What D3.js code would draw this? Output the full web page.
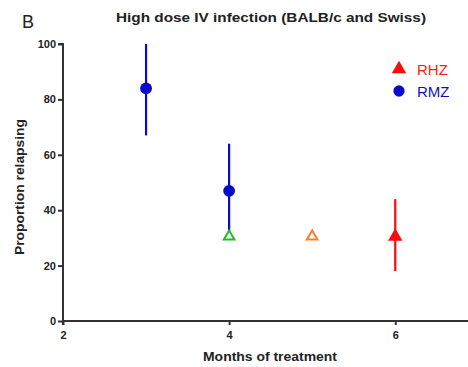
<!DOCTYPE html>
<html>
<head>
<meta charset="utf-8">
<script src="https://cdn.jsdelivr.net/npm/d3@7"></script>
<style>
  body { margin: 0; background: #fff; }
  text { font-family: Arial, "Liberation Sans", sans-serif; }
</style>
</head>
<body>
<svg id="chart" width="468" height="367"></svg>
<script>
// Months of treatment for each regimen point
const months = [3, 4, 4, 5, 6];
const regimens = ["RMZ", "RMZ", "RHZ", "RHZ", "RHZ"];
const relapse = [84, 47, 30.5, 30.5, 30.5];
const lower = [67, 32, null, null, 18];
const upper = [100, 64, null, null, 44];
const markerStyle = ["blueDot", "blueDot", "greenOpen", "orangeOpen", "redTri"];
const xTicks = [2, 4, 6];
const yTicks = [0, 20, 40, 60, 80, 100];
const legendItems = ["RHZ", "RMZ"];

const svg = d3.select("#chart");
const x = d3.scaleLinear().domain([2, 6.9]).range([63, 470]);
const y = d3.scaleLinear().domain([0, 100]).range([321, 44]);

const axisColor = "#333";

// Axes
const yAxis = svg.append("g").attr("transform", `translate(${x(2)},0)`)
  .call(d3.axisLeft(y).tickValues(yTicks).tickFormat(d3.format("d")).tickSize(5).tickPadding(2));
const xAxis = svg.append("g").attr("transform", `translate(0,${y(0)})`)
  .call(d3.axisBottom(x).tickValues(xTicks).tickFormat(d3.format("d")).tickSize(4).tickPadding(6));
[yAxis, xAxis].forEach(a => {
  a.select(".domain").attr("stroke", axisColor).attr("stroke-width", 2);
  a.selectAll(".tick line").attr("stroke", axisColor).attr("stroke-width", 2);
  a.selectAll(".tick text").attr("fill", "#222").style("font-size", "11px").style("font-weight", "bold");
});
yAxis.select(".domain").attr("d", `M-5,${y(100)}H0V${y(0)}`);
xAxis.select(".domain").attr("d", `M${x(2)},4V0H${x(6.9)}`);

// Titles
svg.append("text").attr("x", 22).attr("y", 28).text("B")
  .style("font-size", "18px").attr("fill", "#222");
svg.append("text").attr("x", 271).attr("y", 22).attr("text-anchor", "middle")
  .attr("textLength", 310).attr("lengthAdjust", "spacingAndGlyphs")
  .text("High dose IV infection (BALB/c and Swiss)")
  .style("font-size", "13px").style("font-weight", "bold").attr("fill", "#222");
svg.append("text").attr("x", 270).attr("y", 361).attr("text-anchor", "middle")
  .attr("textLength", 134).attr("lengthAdjust", "spacingAndGlyphs")
  .text("Months of treatment")
  .style("font-size", "12.5px").style("font-weight", "bold").attr("fill", "#222");
svg.append("text").attr("transform", `translate(24,187) rotate(-90)`)
  .attr("text-anchor", "middle")
  .attr("textLength", 136).attr("lengthAdjust", "spacingAndGlyphs")
  .text("Proportion relapsing")
  .style("font-size", "12.5px").style("font-weight", "bold").attr("fill", "#222");

const styles = {
  blueDot: { color: "#0a0acc", shape: "circle", fill: true },
  greenOpen: { color: "#22bb22", shape: "tri", fill: false },
  orangeOpen: { color: "#ff7a2a", shape: "tri", fill: false },
  redTri: { color: "#ff0a0a", shape: "tri", fill: true }
};

const idx = d3.range(months.length);

// Error bars
svg.append("g").selectAll("line").data(idx.filter(i => lower[i] !== null))
  .join("line")
  .attr("x1", i => x(months[i])).attr("x2", i => x(months[i]))
  .attr("y1", i => y(upper[i])).attr("y2", i => y(lower[i]))
  .attr("stroke", i => styles[markerStyle[i]].color).attr("stroke-width", 2.2);

const triPath = d3.symbol().type(d3.symbolTriangle);

// Markers
svg.append("g").selectAll("path").data(idx)
  .join("path")
  .attr("transform", i => `translate(${x(months[i])},${y(relapse[i])})`)
  .attr("d", i => {
    const s = styles[markerStyle[i]];
    if (s.shape === "circle") return d3.symbol().type(d3.symbolCircle).size(110)();
    return s.fill ? triPath.size(90)() : triPath.size(48)();
  })
  .attr("fill", i => styles[markerStyle[i]].fill ? styles[markerStyle[i]].color : "#fff")
  .attr("stroke", i => styles[markerStyle[i]].color)
  .attr("stroke-width", i => styles[markerStyle[i]].fill ? 0 : 2);

// Legend
const legendColor = { RHZ: "#ff1a1a", RMZ: "#1010c0" };
const legend = svg.append("g");
legendItems.forEach((name, k) => {
  const cy = 69 + k * 22;
  legend.append("path")
    .attr("transform", `translate(399,${cy})`)
    .attr("d", name === "RHZ" ? triPath.size(90)() : d3.symbol().type(d3.symbolCircle).size(100)())
    .attr("fill", name === "RHZ" ? "#ff0a0a" : "#0a0acc");
  legend.append("text").attr("x", 417).attr("y", cy + 6).text(name)
    .style("font-size", "15px").attr("fill", legendColor[name]);
});
</script>
</body>
</html>
